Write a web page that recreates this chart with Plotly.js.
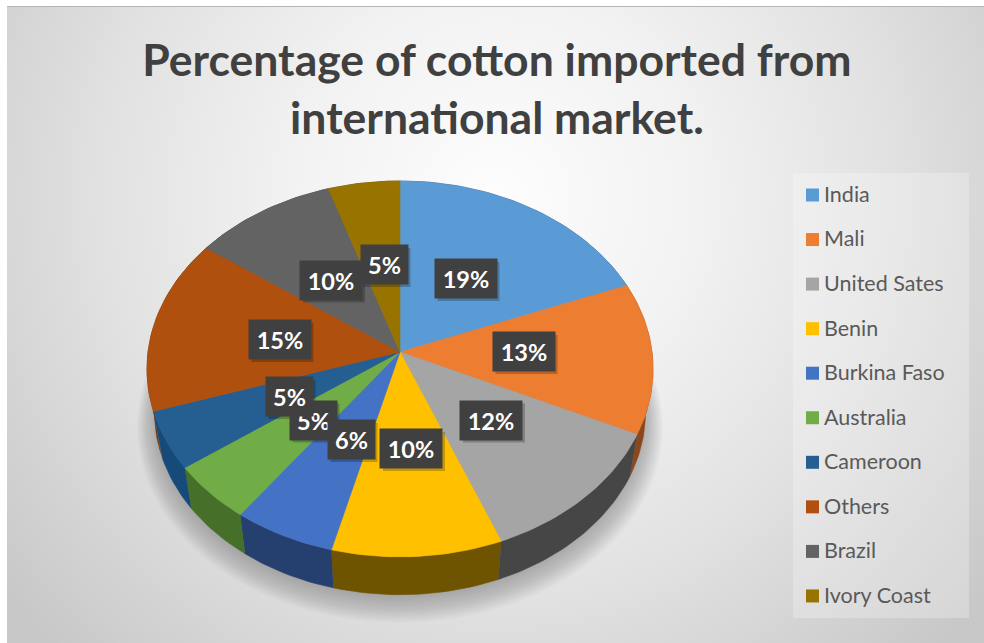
<!DOCTYPE html>
<html>
<head>
<meta charset="utf-8">
<script src="https://cdn.plot.ly/plotly-3.0.1.min.js"></script>
<style>
  html, body { margin: 0; padding: 0; background: #fff; overflow: hidden; }
  #frame { position: absolute; left: 7px; top: 6px; width: 977px; height: 636px;
    border-top: 1px solid #b5b5b5;
    background: radial-gradient(ellipse 64% 100% at 50% 30%, #fdfdfd 0%, #f2f2f2 32%, #e2e2e2 62%, #c8c8c8 100%); }
  #chart { position: absolute; left: 0; top: 0; width: 984px; height: 643px; }
</style>
</head>
<body>
<div id="frame"></div>
<div id="chart"></div>
<script>
// Cotton import shares, clockwise from twelve o'clock
const countries = ['India', 'Mali', 'United Sates', 'Benin', 'Burkina Faso', 'Australia', 'Cameroon', 'Others', 'Brazil', 'Ivory Coast'];
const shares = [19, 13, 12, 10, 6, 5, 5, 15, 10, 5];
const topColours = ['#5b9bd5', '#ed7d31', '#a5a5a5', '#ffc000', '#4472c4', '#70ad47', '#255e91', '#b0500e', '#636363', '#997300'];
const sideColours = ['#34597b', '#8a481c', '#464646', '#6e5300', '#253f6e', '#467029', '#164a78', '#6b3008', '#3b3b3b', '#5c4500'];
const labelCentres = [[465.5, 278.5], [523.5, 351.5], [491, 420], [411, 448.5], [351, 439.5], [313, 420], [289, 396.5], [279.5, 339.5], [331, 280], [384, 264.5]];
const labelOrder = [5, 0, 1, 2, 3, 4, 6, 7, 8, 9];

// Tilted disc: a circle seen in perspective, in pixel-scaled axes
const cx = 400, cy = 352, rx = 252, ry = 186.4, tilt = 0.09;
function rim(deg, scale = 1, dx = 0, dy = 0) {
  const t = deg * Math.PI / 180, d = 1 + tilt * Math.cos(t);
  return [cx + dx + scale * rx * Math.sin(t) / d, cy + dy - scale * ry * Math.cos(t) / d];
}
function arc(from, to, scale, dx, dy) {
  const n = Math.max(2, Math.ceil(Math.abs(to - from) / 1.5));
  const pts = [];
  for (let i = 0; i <= n; i++) pts.push(rim(from + (to - from) * i / n, scale, dx, dy));
  return pts;
}
function polygon(pts, colour, name, edge) {
  return { type: 'scatter', mode: 'lines', x: pts.map(p => p[0]), y: pts.map(p => p[1]),
    fill: 'toself', fillcolor: colour, line: { color: edge || colour, width: edge === 'rgba(0,0,0,0)' ? 0 : 0.6 }, hoverinfo: 'text', text: name, showlegend: false };
}

const total = shares.reduce((a, b) => a + b, 0);
const spans = [];
shares.reduce((acc, v) => { const end = acc + v / total * 360; spans.push([acc, end]); return end; }, 0);

const traces = [];

// Soft drop shadow under the disc, built from stacked translucent outlines
const shadowLayers = 30;
for (let i = 0; i < shadowLayers; i++) {
  const s = 1.04 - i * 0.0035;
  traces.push(polygon(arc(0, 360, s, 0, 58 - i * 0.5), 'rgba(60,60,60,0.015)', '', 'rgba(0,0,0,0)'));
}

// Legend backing panel
traces.push(polygon([[793, 173], [969, 173], [969, 618], [793, 618], [793, 173]], 'rgba(255,255,255,0.25)', '', 'rgba(0,0,0,0)'));

// Side wall, then the top face over it
const wallScale = 0.97, wallDrop = 44;
spans.forEach((sp, i) => {
  const upper = arc(sp[0], sp[1], 1, 0, 0);
  const lower = arc(sp[1], sp[0], wallScale, 0, wallDrop);
  traces.push(polygon(upper.concat(lower), sideColours[i], countries[i]));
});
spans.forEach((sp, i) => {
  const face = [[cx, cy]].concat(arc(sp[0], sp[1], 1, 0, 0), [[cx, cy]]);
  traces.push(polygon(face, topColours[i], countries[i] + ': ' + shares[i] + '%'));
});

// Legend column: swatches and their names
const legendTop = 195, legendStep = 44.55;
const legendRows = countries.map((_, i) => legendTop + i * legendStep);
traces.push({
  type: 'scatter', mode: 'markers',
  x: countries.map(() => 812.5), y: legendRows,
  marker: { symbol: 'square', size: 13, color: topColours },
  text: countries, hoverinfo: 'text', showlegend: false
});
traces.push({
  type: 'scatter', mode: 'text',
  x: countries.map(() => 824), y: legendRows.map(y => y + 1.5),
  text: countries, textposition: 'middle right',
  textfont: { family: 'Lato, sans-serif', size: 21.5, color: '#595959' },
  hoverinfo: 'text', showlegend: false
});

// Value labels: dark tags with a small offset shadow
const tagW = v => v >= 10 ? 62 : 47, tagH = 39;
const shapes = labelOrder.map(i => {
  const [x, y] = labelCentres[i], w = tagW(shares[i]);
  return { type: 'rect', xref: 'x', yref: 'y', layer: 'above', line: { width: 0 }, fillcolor: 'rgba(0,0,0,0.22)',
    x0: x - w / 2 + 3, x1: x + w / 2 + 3, y0: y - tagH / 2 + 3, y1: y + tagH / 2 + 3 };
});
const annotations = labelOrder.map(i => ({
  xref: 'x', yref: 'y', x: labelCentres[i][0], y: labelCentres[i][1], xanchor: 'center', yanchor: 'middle',
  showarrow: false, text: '<b>' + shares[i] + '%</b>', width: tagW(shares[i]), height: tagH, borderpad: 0,
  bgcolor: '#404040', font: { family: 'Lato, sans-serif', size: 23.5, color: '#ffffff' }
}));

Plotly.newPlot('chart', traces, {
  width: 984, height: 643, margin: { l: 0, r: 0, t: 0, b: 0 },
  paper_bgcolor: 'rgba(0,0,0,0)', plot_bgcolor: 'rgba(0,0,0,0)', showlegend: false,
  xaxis: { range: [0, 984], visible: false, fixedrange: true },
  yaxis: { range: [643, 0], visible: false, fixedrange: true },
  title: { text: '<b>Percentage of cotton imported from<br>international market.</b>', x: 0.505, xanchor: 'center', y: 0.882, yanchor: 'top',
    font: { family: 'Lato, sans-serif', size: 44.5, color: '#404040' } },
  shapes, annotations
}, { displayModeBar: false, staticPlot: true });
</script>
</body>
</html>
